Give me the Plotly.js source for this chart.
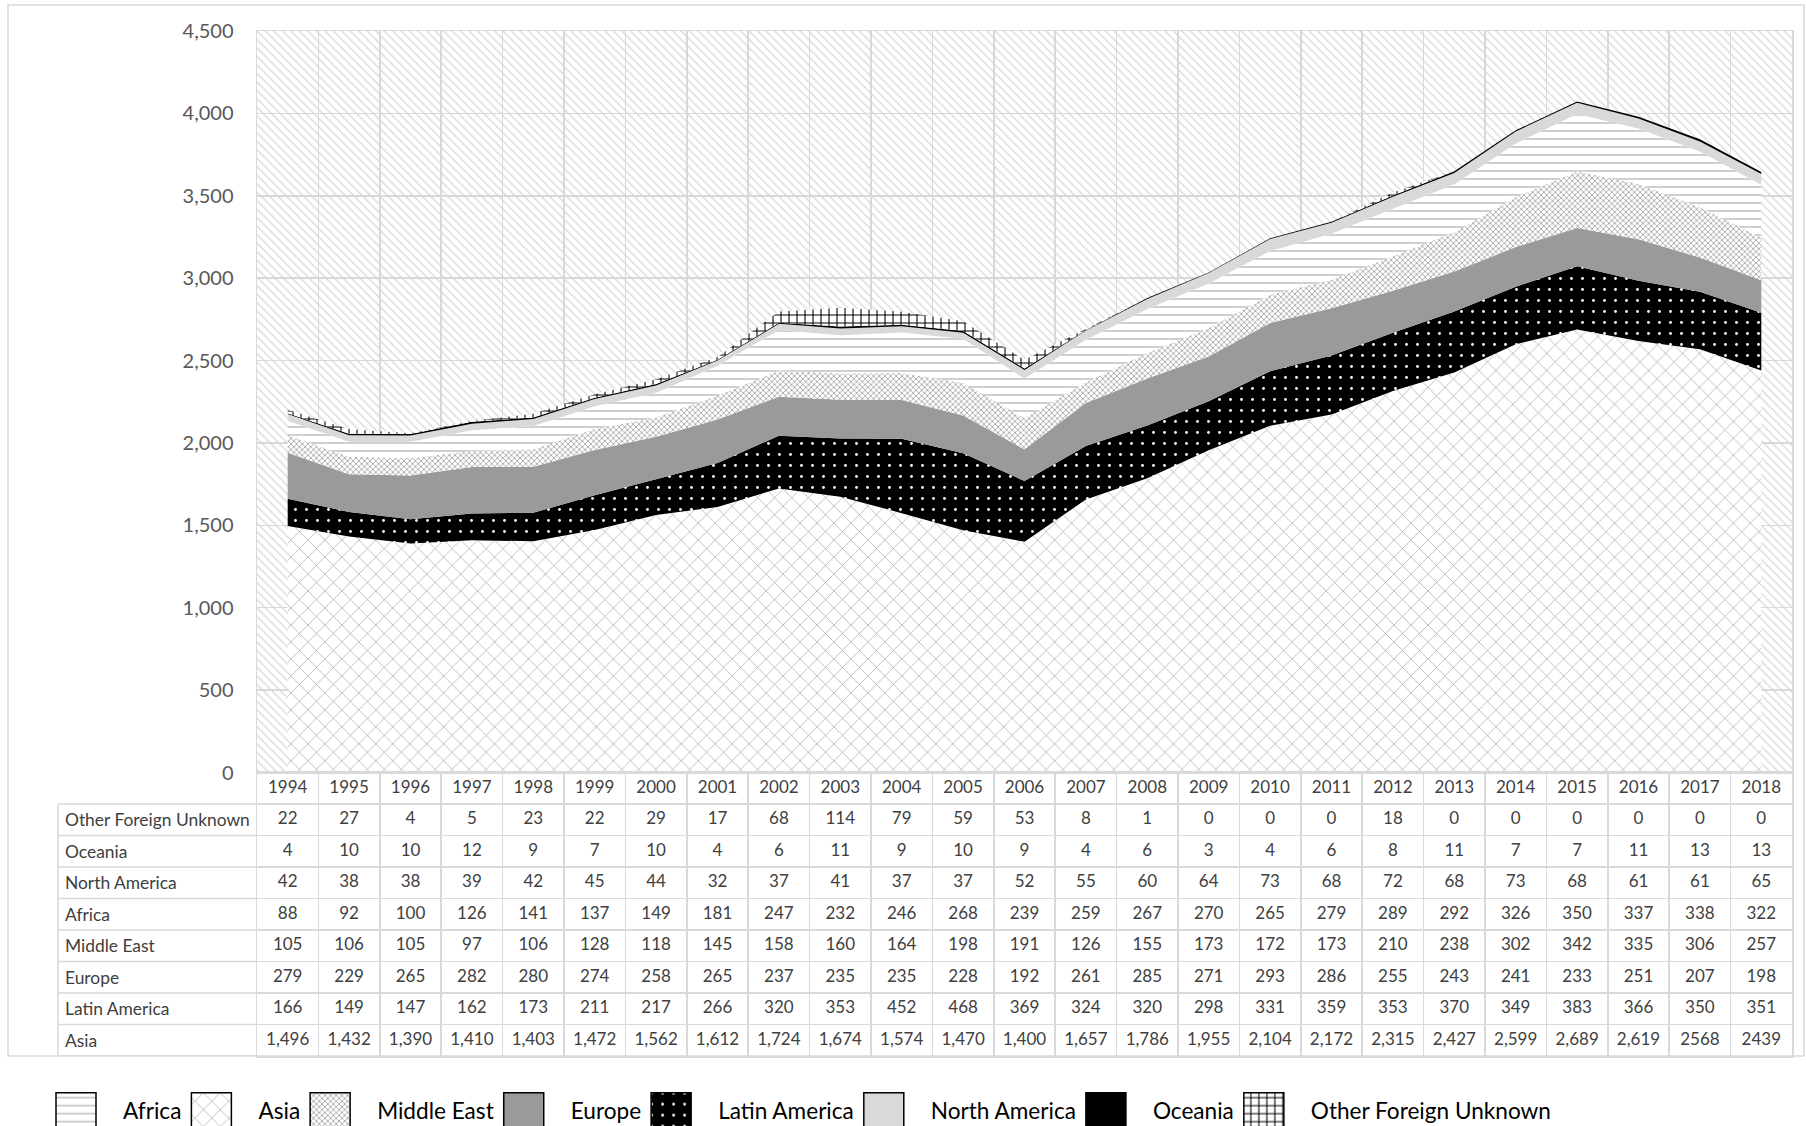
<!DOCTYPE html>
<html>
<head>
<meta charset="utf-8">
<script src="https://cdn.plot.ly/plotly-3.0.1.min.js"></script>
<style>
  html, body { margin: 0; padding: 0; background: #ffffff; }
  #chart { width: 1806px; height: 1126px; }
</style>
</head>
<body>
<div id="chart"></div>
<script>
// ---------------- data ----------------
var years = [1994,1995,1996,1997,1998,1999,2000,2001,2002,2003,2004,2005,2006,2007,2008,2009,2010,2011,2012,2013,2014,2015,2016,2017,2018];
var otherForeignUnknown = [22,27,4,5,23,22,29,17,68,114,79,59,53,8,1,0,0,0,18,0,0,0,0,0,0];
var oceania = [4,10,10,12,9,7,10,4,6,11,9,10,9,4,6,3,4,6,8,11,7,7,11,13,13];
var northAmerica = [42,38,38,39,42,45,44,32,37,41,37,37,52,55,60,64,73,68,72,68,73,68,61,61,65];
var africa = [88,92,100,126,141,137,149,181,247,232,246,268,239,259,267,270,265,279,289,292,326,350,337,338,322];
var middleEast = [105,106,105,97,106,128,118,145,158,160,164,198,191,126,155,173,172,173,210,238,302,342,335,306,257];
var europe = [279,229,265,282,280,274,258,265,237,235,235,228,192,261,285,271,293,286,255,243,241,233,251,207,198];
var latinAmerica = [166,149,147,162,173,211,217,266,320,353,452,468,369,324,320,298,331,359,353,370,349,383,366,350,351];
var asia = [1496,1432,1390,1410,1403,1472,1562,1612,1724,1674,1574,1470,1400,1657,1786,1955,2104,2172,2315,2427,2599,2689,2619,2568,2439];
// years whose Asia value is printed without a thousands separator in the table
var noCommaYears = [2017, 2018];
var yTickMax = 4500;

// table rows, top to bottom
var tableRows = [
  {name: 'Other Foreign Unknown', values: otherForeignUnknown},
  {name: 'Oceania', values: oceania},
  {name: 'North America', values: northAmerica},
  {name: 'Africa', values: africa},
  {name: 'Middle East', values: middleEast},
  {name: 'Europe', values: europe},
  {name: 'Latin America', values: latinAmerica},
  {name: 'Asia', values: asia}
];

// ---------------- styling ----------------
var FONT = "Lato, 'Open Sans', sans-serif";
var GRID = '#d9d9d9';
var W = 1806, H = 1126;
var plotL = 257, plotR = 1792, plotT = 31, plotB = 1056, chartBottom = 772.5;
var paperW = plotR - plotL, paperH = plotB - plotT;
function px2x(px) { return (px - plotL) / paperW; }
function px2y(py) { return (plotB - py) / paperH; }
var tableFrac = (plotB - chartBottom) / paperH;

function fmt(v, yr) {
  if (noCommaYears.indexOf(yr) >= 0) return String(v);
  return v.toLocaleString('en-US');
}

// ---------------- traces ----------------
var traces = [];

// plot-area hatched background spanning the full axis range
traces.push({
  type: 'bar', x: [(years[0] + years[years.length - 1]) / 2], y: [yTickMax],
  width: [years.length], xaxis: 'x', yaxis: 'y',
  marker: {color: 'rgba(0,0,0,0)', line: {width: 0},
    pattern: {shape: '\\', fgcolor: '#d6d6d6', bgcolor: 'rgba(0,0,0,0)', size: 6, solidity: 0.2}},
  showlegend: false, hoverinfo: 'skip'
});

function area(name, values, rank, fill, pattern) {
  var t = {
    type: 'scatter', mode: 'lines', name: name, x: years, y: values,
    stackgroup: 'one', line: {width: 0, color: fill}, fillcolor: fill,
    legendrank: rank, hoverinfo: 'skip', xaxis: 'x', yaxis: 'y'
  };
  if (pattern) t.fillpattern = pattern;
  return t;
}
traces.push(area('Asia', asia, 2, '#ffffff',
  {shape: 'x', fgcolor: '#8f8f8f', bgcolor: '#ffffff', size: 12, solidity: 0.09}));
traces.push(area('Latin America', latinAmerica, 5, '#000000',
  {shape: '.', fgcolor: '#ffffff', bgcolor: '#000000', size: 11, solidity: 0.05}));
traces.push(area('Europe', europe, 4, '#9a9a9a', null));
traces.push(area('Middle East', middleEast, 3, '#ffffff',
  {shape: 'x', fgcolor: '#999999', bgcolor: '#ffffff', size: 4, solidity: 0.35}));
traces.push(area('Africa', africa, 1, '#ffffff',
  {shape: '-', fgcolor: '#bdbdbd', bgcolor: '#ffffff', size: 8, solidity: 0.18}));
traces.push(area('North America', northAmerica, 6, '#d9d9d9', null));
traces.push(area('Oceania', oceania, 7, '#000000', null));
traces.push(area('Other Foreign Unknown', otherForeignUnknown, 8, '#ffffff',
  {shape: '+', fgcolor: '#000000', bgcolor: '#ffffff', size: 8, solidity: 0.25}));

// data table cells (row 0 = year header)
var cx = [], cy = [], ct = [];
years.forEach(function (yr) { cx.push(yr); cy.push(0); ct.push(String(yr)); });
tableRows.forEach(function (row, r) {
  row.values.forEach(function (v, i) { cx.push(years[i]); cy.push(r + 1); ct.push(fmt(v, years[i])); });
});
traces.push({
  type: 'scatter', mode: 'text', x: cx, y: cy, text: ct, xaxis: 'x', yaxis: 'y2',
  textposition: 'middle center', textfont: {family: FONT, size: 17, color: '#404040'},
  showlegend: false, hoverinfo: 'skip', cliponaxis: false
});

// ---------------- annotations & shapes ----------------
var annotations = tableRows.map(function (row, r) {
  return {xref: 'paper', yref: 'y2', x: px2x(63), y: r + 1, xanchor: 'left', yanchor: 'middle',
    text: row.name, showarrow: false, font: {family: FONT, size: 17.4, color: '#404040'}};
});

var shapes = [];
var labL = px2x(58);
for (var k = 0; k <= tableRows.length; k++) {
  shapes.push({type: 'line', xref: 'paper', yref: 'y2', x0: labL, x1: 0, y0: k + 0.5, y1: k + 0.5,
    line: {color: GRID, width: 1.5}});
}
shapes.push({type: 'line', xref: 'paper', yref: 'y2', x0: labL, x1: labL, y0: 0.5, y1: tableRows.length + 0.5,
  line: {color: GRID, width: 1.5}});
// outer chart frame
shapes.push({type: 'rect', xref: 'paper', yref: 'paper', x0: px2x(8), x1: px2x(1804), y0: 0, y1: px2y(5),
  line: {color: GRID, width: 1.5}, fillcolor: 'rgba(0,0,0,0)', layer: 'below'});

// ---------------- layout ----------------
var layout = {
  width: W, height: H,
  margin: {l: plotL, r: W - plotR, t: plotT, b: H - plotB, pad: 0, autoexpand: false},
  paper_bgcolor: '#ffffff', plot_bgcolor: '#ffffff',
  font: {family: FONT, color: '#404040'},
  showlegend: true,
  hovermode: false,
  barmode: 'overlay',
  xaxis: {
    type: 'linear', range: [years[0] - 0.5, years[years.length - 1] + 0.5],
    tick0: years[0] - 0.5, dtick: 1, showticklabels: false, ticks: '',
    showgrid: true, gridcolor: GRID, gridwidth: 1.5, zeroline: false,
    showline: true, linecolor: GRID, linewidth: 1.5, mirror: 'all', anchor: 'y', fixedrange: true
  },
  yaxis: {
    domain: [tableFrac, 1], range: [0, yTickMax], dtick: 500, tick0: 0,
    tickformat: ',d', showgrid: true, gridcolor: GRID, gridwidth: 1.5, zeroline: false,
    showline: true, linecolor: GRID, linewidth: 1.5, mirror: true,
    ticks: 'outside', ticklen: 18, tickcolor: 'rgba(0,0,0,0)',
    tickfont: {family: FONT, size: 20, color: '#595959'}, anchor: 'x', fixedrange: true
  },
  yaxis2: {
    domain: [0, tableFrac], range: [tableRows.length + 0.5, -0.5], tick0: 0.5, dtick: 1,
    showticklabels: false, ticks: '', showgrid: true, gridcolor: GRID, gridwidth: 1.5,
    zeroline: false, showline: true, linecolor: GRID, linewidth: 1.5, mirror: true,
    anchor: 'x', fixedrange: true
  },
  legend: {
    orientation: 'h', x: px2x(51), xanchor: 'left', y: px2y(1110), yanchor: 'middle',
    bgcolor: 'rgba(0,0,0,0)', borderwidth: 0, itemwidth: 62, traceorder: 'normal',
    font: {family: FONT, size: 22.6, color: '#000000'}
  },
  annotations: annotations,
  shapes: shapes
};

var gd = document.getElementById('chart');
Plotly.newPlot(gd, traces, layout, {staticPlot: true, displayModeBar: false}).then(function () {
  var sb = gd.querySelector('.legend .scrollbox');
  if (sb) sb.removeAttribute('clip-path');
  gd.querySelectorAll('.legend .traces').forEach(function (t) {
    var p = t.querySelector('.legendfill path');
    if (p) {
      p.setAttribute('d', 'M5,-17h40v36h-40z');
      p.style.stroke = '#000000';
      p.style.strokeWidth = '1.5px';
    }
  });
});
</script>
</body>
</html>
